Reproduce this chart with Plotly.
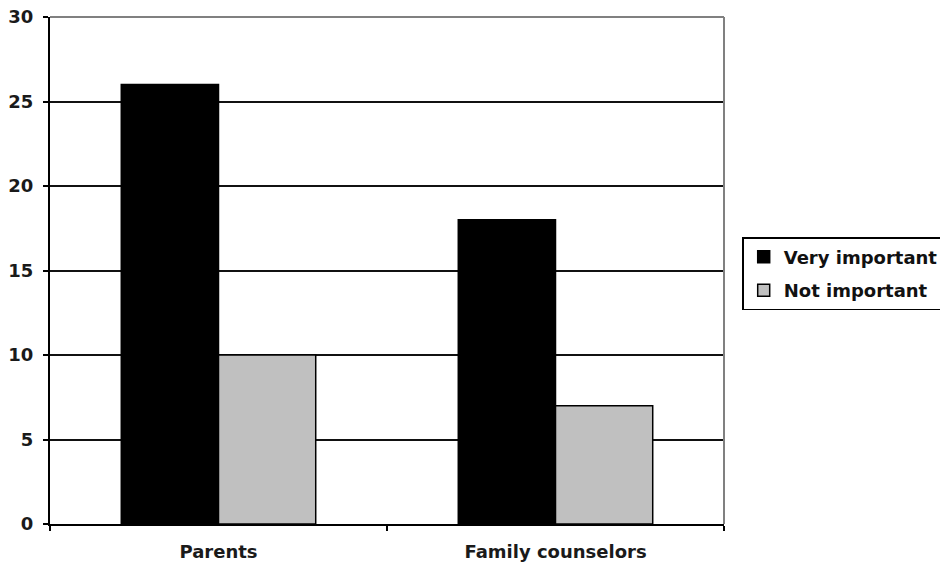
import plotly.graph_objects as go

# Survey responses by group
categories = ["Parents", "Family counselors"]
very_important = [26, 18]
not_important = [10, 7]
y_ticks = [0, 5, 10, 15, 20, 25, 30]

font_family = "DejaVu Sans"

fig = go.Figure()
fig.add_trace(go.Bar(
    x=categories, y=very_important, name="Very important",
    marker=dict(color="#000000", line=dict(color="#000000", width=1.5)),
    legendgroup="a",
))
fig.add_trace(go.Bar(
    x=categories, y=not_important, name="Not important",
    marker=dict(color="#c0c0c0", line=dict(color="#000000", width=1.5)),
    legendgroup="b",
))

fig.update_layout(
    width=940, height=564,
    margin=dict(l=50, r=216, t=17, b=40, autoexpand=False),
    paper_bgcolor="white", plot_bgcolor="white",
    barmode="group", bargap=0.423, bargroupgap=0,
    font=dict(family=font_family, size=18, color="#1a1a1a", weight="bold"),
    showlegend=True,
    legend=dict(
        x=1.027, xanchor="left", y=0.566, yanchor="top",
        bordercolor="#000000", borderwidth=1.5, bgcolor="white",
        font=dict(family=font_family, size=18, color="#111111", weight="bold"),
        tracegroupgap=7, traceorder="grouped",
    ),
    xaxis=dict(
        showline=True, linecolor="#000000", linewidth=2,
        ticks="outside", tickson="boundaries", ticklen=5, tickcolor="#000000",
        tickwidth=2, ticklabelstandoff=10, showgrid=False,
    ),
    yaxis=dict(
        range=[0, 30], tickvals=y_ticks,
        showline=True, linecolor="#000000", linewidth=2,
        ticks="outside", ticklen=5, tickcolor="#000000", tickwidth=2,
        showgrid=True, gridcolor="#111111", gridwidth=2,
        zeroline=False, ticklabelstandoff=6,
    ),
    shapes=[
        dict(type="line", xref="paper", yref="paper", x0=0, x1=1, y0=1, y1=1,
             line=dict(color="#808080", width=2), layer="above"),
        dict(type="line", xref="paper", yref="paper", x0=1, x1=1, y0=0, y1=1,
             line=dict(color="#808080", width=2), layer="above"),
    ],
)

fig.write_html("out.html")
